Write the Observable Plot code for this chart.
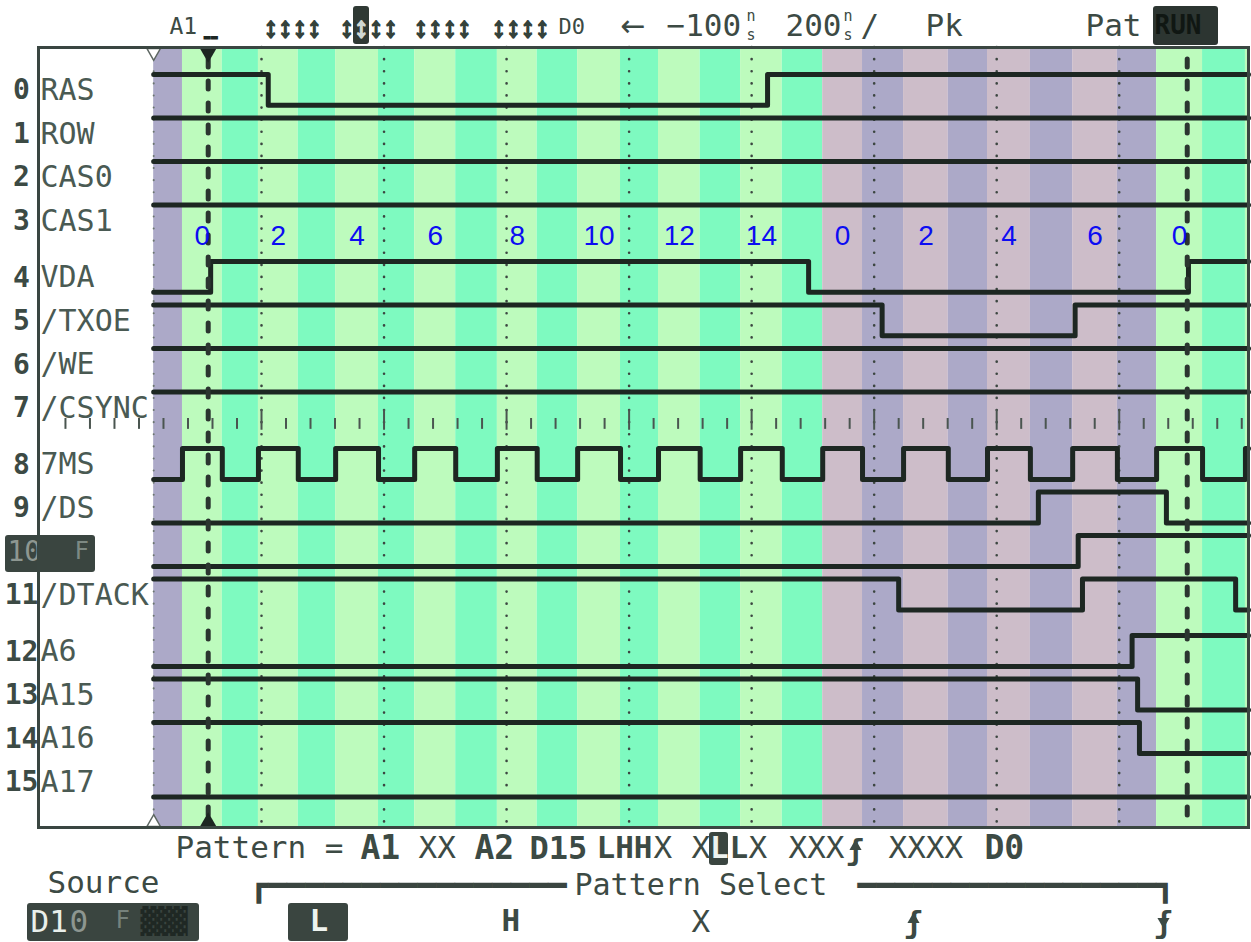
<!DOCTYPE html>
<html><head><meta charset="utf-8">
<script src="https://cdn.jsdelivr.net/npm/d3@7"></script>
<script src="https://cdn.jsdelivr.net/npm/@observablehq/plot@0.6"></script>
<style>
html,body{margin:0;padding:0;background:#fff;}
#chart{width:1251px;height:942px;overflow:hidden;}
</style></head><body><div id="chart"></div>
<script>
// ---------------- data ----------------
const channelNumbers = ["0","1","2","3","4","5","6","7","8","9","10","11","12","13","14","15"];
const channelNames = ["RAS","ROW","CAS0","CAS1","VDA","/TXOE","/WE","/CSYNC","7MS","/DS","","/DTACK","A6","A15","A16","A17"];
const initialLevels = [1,1,1,1,0,1,1,1,0,0,0,1,0,1,1,0];
// edge times (ns) for each channel (channel 8 = clock, below)
const edgeTimes = [
  [111, 926],          // RAS
  [], [], [],          // ROW, CAS0, CAS1
  [17, 993, 1613],     // VDA
  [1113, 1428],        // /TXOE
  [], [],              // /WE, /CSYNC
  [],                  // 7MS (clock)
  [1368, 1577],        // /DS
  [1433],              // 10
  [1140, 1440, 1690],  // /DTACK
  [1521],              // A6
  [1530],              // A15
  [1533],              // A16
  []                   // A17
];
const clockRises = [-29, 95, 221, 350, 485, 616, 748, 882, 1016, 1148, 1285, 1424, 1561, 1706];
const clockFalls = [36, 160, 291, 417, 550, 686, 816, 950, 1081, 1221, 1355, 1497, 1636];
const cycleLabels = ["0","2","4","6","8","10","12","14","0","2","4","6","0",""];
const cycleGroups = ["A","A","A","A","A","A","A","A","B","B","B","B","A","A"];
const gridTimes = [100, 300, 500, 700, 900, 1100, 1300, 1500];
const cursorTimes = [13, 1611];
const tStart = -76, tEnd = 1711, tLeft = -264;

// ---------------- style ----------------
const MONO = "DejaVu Sans Mono";
const SANS = "DejaVu Sans";
const TXT = "#3c4a44";
const INK = "#1d2722";
const BOX = "#3a4540";
const COLORS = {A: ["#bdfbbd", "#7efac0"], B: ["#cdbdc9", "#aca9c8"]};
const W = 1251, H = 942, mL = 38, mR = 3, mT = 47, mB = 115;
const yTop = -0.989, yBottom = 16.943;

const rowPos = ch => ch + 0.3 * Math.floor(ch / 4);
const levelY = (ch, lv) => rowPos(ch) + (lv ? -0.37 : 0.34);
// screen layout helpers (for the instrument's boxes around the plot)
const px2t = px => tLeft + (px - mL) * (tEnd - tLeft) / (W - mL - mR);
const px2r = py => yTop + (py - mT) * (yBottom - yTop) / (H - mT - mB);

// waveforms
const waves = [];
channelNames.forEach((name, ch) => {
  let lv = initialLevels[ch];
  const edges = ch === 8 ? d3.sort(clockRises.concat(clockFalls)) : edgeTimes[ch];
  waves.push({ch, t: tStart, y: levelY(ch, lv)});
  for (const e of edges) { lv = 1 - lv; waves.push({ch, t: e, y: levelY(ch, lv)}); }
  waves.push({ch, t: tEnd, y: levelY(ch, lv)});
});

// background stripes from clock half periods
const stripes = [{x1: tStart, x2: clockRises[0], color: COLORS.B[1]}];
clockRises.forEach((r, i) => {
  const g = COLORS[cycleGroups[i]];
  const f = i < clockFalls.length ? clockFalls[i] : tEnd;
  stripes.push({x1: r, x2: f, color: g[0]});
  if (i < clockFalls.length) stripes.push({x1: f, x2: i + 1 < clockRises.length ? clockRises[i + 1] : tEnd, color: g[1]});
});
const cycles = clockRises.map((r, i) => ({t: (r + (i < clockFalls.length ? clockFalls[i] : tEnd)) / 2, label: cycleLabels[i]}));

const minorTicks = d3.range(-220, tEnd, 40).filter(t => !gridTimes.includes(t));
const tickRow = levelY(7, 0);
const channels = channelNames.map((name, ch) => ({ch, name, num: channelNumbers[ch], y: rowPos(ch)}));

// screen texts
function txt(s, x, y, o = {}) {
  return Plot.text([s], {text: d => d, frameAnchor: "top-left", dx: x - mL, dy: y - mT,
    textAnchor: "start", lineAnchor: "middle", fontFamily: MONO, fontSize: 31, fill: TXT, ...o});
}
function box(x1, x2, y1, y2, fill = BOX) {
  return Plot.rect([0], {x1: px2t(x1), x2: px2t(x2), y1: px2r(y1), y2: px2r(y2), fill, rx: 3});
}
function head(x, y, rot) {
  return Plot.dot([0], {frameAnchor: "top-left", dx: x - mL, dy: y - mT, symbol: "triangle", rotate: rot, r: 4.5, fill: TXT});
}
const ARW = {fontFamily: "Liberation Sans", fontSize: 29, fontWeight: "bold", fill: "#34423b", stroke: "#34423b", strokeWidth: 1.8};
const headerMarks = [
  txt("A1", 169, 26, {fontSize: 23}),
  txt("▬▬", 203, 37, {fontSize: 12, fill: INK}),
  txt("↕↕↕↕", 263, 27, ARW),
  box(353, 369, 6, 44, "#2f3934"),
  txt("↕", 339, 27, ARW),
  txt("↕", 353.6, 27, {...ARW, fill: "#d0d8d3", stroke: "#d0d8d3"}),
  txt("↕↕", 368.2, 27, ARW),
  txt("↕↕↕↕", 413, 27, ARW),
  txt("↕↕↕↕", 491, 27, ARW),
  txt("D0", 558, 26, {fontSize: 22}),
  txt("←", 620, 26, {fontSize: 30, fontFamily: SANS}),
  txt("−100", 666, 26),
  txt("n", 746, 16, {fontSize: 15}),
  txt("s", 746, 35, {fontSize: 15}),
  txt("200", 785, 26),
  txt("n", 843, 16, {fontSize: 15}),
  txt("s", 843, 35, {fontSize: 15}),
  txt("/", 860, 26),
  txt("Pk", 925, 26),
  txt("Pat", 1085, 26),
  box(1153, 1218, 6, 45, "#2c3531"),
  txt("RUN", 1154, 25, {fontSize: 26, fontWeight: "bold", fill: "#101713"})
];
const PY = 848;
const footerMarks = [
  txt("Pattern =", 175, PY),
  txt("A1", 360, PY, {fontSize: 33, fontWeight: "bold"}),
  txt("XX", 418, PY),
  txt("A2", 474, PY, {fontSize: 33, fontWeight: "bold"}),
  txt("D15", 529, PY, {fontSize: 32, fontWeight: "bold"}),
  txt("LHH", 596, PY, {fontSize: 31, fontWeight: "bold"}),
  txt("X", 653, PY),
  txt("X", 691, PY),
  box(709, 728, 832, 865),
  txt("L", 709.5, PY, {fontSize: 31, fontWeight: "bold", fill: "#eef3ef"}),
  txt("L", 729, PY, {fontSize: 31, fontWeight: "bold"}),
  txt("X", 748, PY),
  txt("XXX", 788, PY),
  txt("ʃ", 846, PY + 2, {fontSize: 29, fontWeight: "bold"}),
  head(855, PY - 2, 0),
  txt("XXXX", 888, PY),
  txt("D0", 984, PY, {fontSize: 33, fontWeight: "bold"}),
  txt("Source", 47, 883),
  txt("┏━━━━━━━━━━━━━━━━", 249, 886, {fontSize: 31, fill: BOX}),
  txt("Pattern Select", 574, 885, {fontSize: 30}),
  txt("━━━━━━━━━━━━━━━━┓", 857, 886, {fontSize: 31, fill: BOX}),
  box(27, 199, 903, 941),
  txt("D1", 30, 922, {fontSize: 31, fill: "#e9efeb"}),
  txt("0", 69, 922, {fontSize: 31, fill: "#8d9690"}),
  txt("F", 115, 920, {fontSize: 24, fill: "#76827c"}),
  txt("▓▓▓", 140, 921, {fontSize: 26, fill: "#1f2824"}),
  box(288, 348, 903, 941),
  txt("L", 309, 921, {fontSize: 31, fontWeight: "bold", fill: "#eef3ef"}),
  txt("H", 501, 921, {fontSize: 31, fontWeight: "bold"}),
  txt("X", 691, 922),
  txt("ʃ", 904, 923, {fontSize: 30, fontWeight: "bold"}),
  head(913, 919, 0),
  txt("ʃ", 1154, 923, {fontSize: 30, fontWeight: "bold"}),
  head(1163, 921, 180)
];

const chart = Plot.plot({
  width: W, height: H,
  marginLeft: mL, marginRight: mR, marginTop: mT, marginBottom: mB,
  x: {domain: [tLeft, tEnd], axis: null},
  y: {domain: [yBottom, yTop], axis: null},
  style: {background: "#ffffff"},
  marks: [
    Plot.rect(stripes, {x1: "x1", x2: "x2", fill: "color"}),
    Plot.ruleX(gridTimes, {stroke: "#3c4641", strokeWidth: 2.6, strokeDasharray: "0.1,12", strokeLinecap: "round"}),
    Plot.ruleX([tStart], {stroke: "#6b7570", strokeWidth: 2, strokeDasharray: "0.1,12", strokeLinecap: "round"}),
    Plot.ruleX(minorTicks, {y1: tickRow - 0.1, y2: tickRow + 0.15, stroke: "#4a5550", strokeWidth: 2}),
    Plot.ruleX(gridTimes, {y1: tickRow - 0.3, y2: tickRow + 0.17, stroke: "#4a5550", strokeWidth: 2}),
    Plot.line(waves, {x: "t", y: "y", z: "ch", curve: "step-after", stroke: INK, strokeWidth: 5, strokeLinejoin: "round"}),
    Plot.ruleX(cursorTimes, {stroke: "#2b3530", strokeWidth: 5, strokeDasharray: "8,14", strokeLinecap: "round", insetTop: 12, insetBottom: 8}),
    Plot.dot([tStart], {x: d => d, frameAnchor: "top", dy: 5, symbol: "triangle", rotate: 180, r: 5, stroke: "#5d6762", fill: "white", strokeWidth: 1.5}),
    Plot.dot([cursorTimes[0]], {x: d => d, frameAnchor: "top", dy: 6, symbol: "triangle", rotate: 180, r: 6, fill: INK}),
    Plot.dot([tStart], {x: d => d, frameAnchor: "bottom", dy: -5, symbol: "triangle", r: 5, stroke: "#5d6762", fill: "white", strokeWidth: 1.5}),
    Plot.dot([cursorTimes[0]], {x: d => d, frameAnchor: "bottom", dy: -6, symbol: "triangle", r: 6, fill: INK}),
    Plot.text(cycles, {x: "t", y: () => levelY(3, 0), text: "label", fill: "#0c0cf2", fontSize: 28, fontFamily: "Liberation Sans"}),
    Plot.text(channels.filter(d => d.ch !== 10), {y: "y", text: "num", frameAnchor: "left", dx: -17, textAnchor: "middle", fontFamily: MONO, fontWeight: "bold", fontSize: 28, fill: TXT}),
    Plot.text(channels.filter(d => d.ch !== 10), {y: "y", text: "name", frameAnchor: "left", dx: 2, textAnchor: "start", fontFamily: MONO, fontSize: 30, fill: "#4a5a53"}),
    box(5, 95, 535, 572),
    Plot.text(channels.filter(d => d.ch === 10), {y: "y", text: "num", frameAnchor: "left", dx: -31, textAnchor: "start", fontFamily: MONO, fontSize: 28, fill: "#8e9791"}),
    Plot.text(channels.filter(d => d.ch === 10), {y: "y", text: () => "F", frameAnchor: "left", dx: 36, textAnchor: "start", fontFamily: MONO, fontSize: 24, fill: "#7d8983"}),
    ...headerMarks,
    ...footerMarks,
    Plot.frame({stroke: "#3a4641", strokeWidth: 3})
  ]
});
document.getElementById("chart").appendChild(chart);
</script>
</body></html>
